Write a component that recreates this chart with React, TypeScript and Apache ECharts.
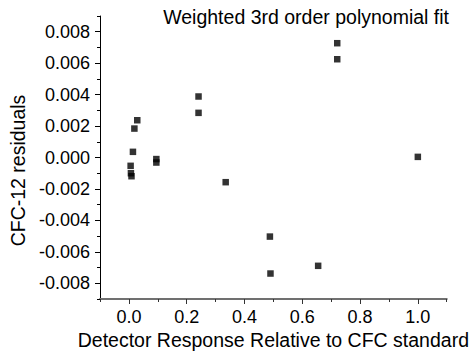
import React, { useEffect, useRef } from "react";
import * as echarts from "echarts";

const xValues = [0.721, 0.721, 0.241, 0.241, 0.029, 0.019, 0.014, 0.095, 0.095, 1.0, 0.006, 0.007, 0.009, 0.335, 0.488, 0.49, 0.655];
const yValues = [0.00727, 0.00625, 0.00388, 0.00284, 0.00237, 0.00184, 0.00036, -0.0001, -0.00032, 0.00004, -0.00053, -0.001, -0.00119, -0.00157, -0.00503, -0.00738, -0.00689];

const xTickLabels = ["-0.1", "0.0", "0.1", "0.2", "0.3", "0.4", "0.5", "0.6", "0.7", "0.8", "0.9", "1.0", "1.1"];
const yTickLabels = ["-0.009", "-0.008", "-0.007", "-0.006", "-0.005", "-0.004", "-0.003", "-0.002", "-0.001", "0.000", "0.001", "0.002", "0.003", "0.004", "0.005", "0.006", "0.007", "0.008", "0.009"];

const titleText = "Weighted 3rd order polynomial fit";
const xName = "Detector Response Relative to CFC standard";
const yName = "CFC-12 residuals";

const FONT = "'Liberation Sans', Arial, sans-serif";

export default function App() {
  const ref = useRef<HTMLDivElement>(null);
  useEffect(() => {
    if (!ref.current) return;
    document.body.style.margin = "0";
    const chart = echarts.init(ref.current, null, { renderer: "svg" });
    const data = xValues.map((x, i) => [x, yValues[i]]);
    const isMajor = (i: number) => i % 2 === 1;
    chart.setOption({
      animation: false,
      backgroundColor: "#fff",
      grid: { left: 100, right: 24, top: 16, bottom: 57, containLabel: false },
      xAxis: [
        {
          type: "value",
          min: -0.1,
          max: 1.1,
          interval: 0.1,
          position: "bottom",
          name: xName,
          nameLocation: "middle",
          nameGap: 31,
          nameTextStyle: { fontFamily: FONT, fontSize: 19.5, color: "#000" },
          axisLine: { show: true, onZero: false, lineStyle: { color: "#707070", width: 2 } },
          axisTick: { show: true, length: 3, lineStyle: { color: "#333", width: 1 } },
          axisLabel: { show: false },
          splitLine: { show: false },
        },
        {
          type: "category",
          data: xTickLabels,
          boundaryGap: false,
          position: "bottom",
          offset: 0,
          axisLine: { show: false, onZero: false },
          axisTick: { show: true, length: 5, interval: (i: number) => isMajor(i), lineStyle: { color: "#333", width: 1 } },
          axisLabel: { show: true, interval: (i: number) => isMajor(i), margin: 8.5, fontFamily: FONT, fontSize: 18, color: "#000" },
          splitLine: { show: false },
        },
      ],
      yAxis: [
        {
          type: "value",
          min: -0.009,
          max: 0.009,
          interval: 0.001,
          position: "left",
          axisLine: { show: true, onZero: false, lineStyle: { color: "#000", width: 1 } },
          axisTick: { show: true, length: 3, lineStyle: { color: "#000", width: 1 } },
          axisLabel: { show: false },
          splitLine: { show: false },
        },
        {
          type: "category",
          data: yTickLabels,
          boundaryGap: false,
          position: "left",
          offset: 0,
          axisLine: { show: false, onZero: false },
          axisTick: { show: true, length: 5, interval: (i: number) => isMajor(i), lineStyle: { color: "#000", width: 1 } },
          axisLabel: { show: true, interval: (i: number) => isMajor(i), margin: 10, fontFamily: FONT, fontSize: 18, color: "#000" },
          splitLine: { show: false },
        },
      ],
      graphic: [
        {
          type: "text",
          x: 18,
          y: 170.5,
          rotation: Math.PI / 2,
          style: { text: yName, font: `19.5px ${FONT}`, fill: "#000", align: "center", verticalAlign: "middle" },
        },
        {
          type: "text",
          x: 449,
          y: 16.5,
          style: { text: titleText, font: `19.5px ${FONT}`, fill: "#000", align: "right", verticalAlign: "middle" },
        },
      ],
      series: [
        {
          type: "scatter",
          xAxisIndex: 0,
          yAxisIndex: 0,
          data,
          symbol: "rect",
          symbolSize: 6.5,
          itemStyle: { color: "#000" },
        },
      ],
    });
    return () => chart.dispose();
  }, []);
  return <div ref={ref} style={{ width: 472, height: 356 }} />;
}
